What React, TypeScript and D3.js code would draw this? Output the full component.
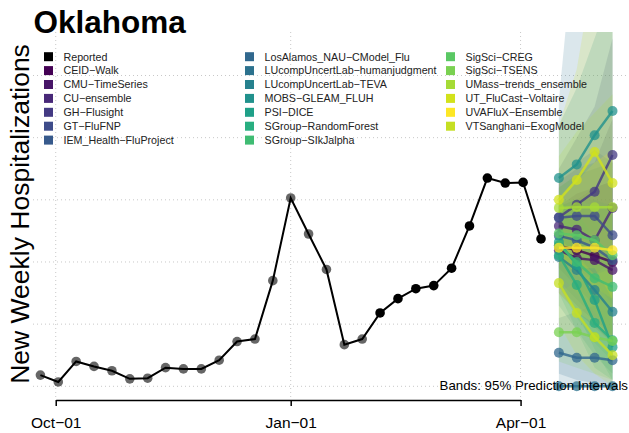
import { useRef, useEffect } from 'react';
import * as d3 from 'd3';

const FONT = "'Liberation Sans', Arial, Helvetica, sans-serif";

// weekly reported hospitalizations
const reportedDates = [
  '2022-09-25', '2022-10-02', '2022-10-09', '2022-10-16', '2022-10-23', '2022-10-30',
  '2022-11-06', '2022-11-13', '2022-11-20', '2022-11-27', '2022-12-04', '2022-12-11',
  '2022-12-18', '2022-12-25', '2023-01-01', '2023-01-08', '2023-01-15', '2023-01-22',
  '2023-01-29', '2023-02-05', '2023-02-12', '2023-02-19', '2023-02-26', '2023-03-05',
  '2023-03-12', '2023-03-19', '2023-03-26', '2023-04-02', '2023-04-09',
];
const reportedValues = [
  18, 7, 40, 32, 25, 12, 13, 30, 28, 28, 42, 72, 76, 170, 303, 245, 188, 67, 76,
  118, 141, 157, 162, 190, 258, 335, 327, 328, 237,
];
// points up to this date are drawn grey
const greyUntil = '2023-01-29';

const forecastDates = ['2023-04-16', '2023-04-23', '2023-04-30', '2023-05-07'];

const modelNames = [
  'CEID-Walk', 'CMU-TimeSeries', 'CU-ensemble', 'GH-Flusight', 'GT-FluFNP',
  'IEM_Health-FluProject', 'LosAlamos_NAU-CModel_Flu', 'LUcompUncertLab-humanjudgment',
  'LUcompUncertLab-TEVA', 'MOBS-GLEAM_FLUH', 'PSI-DICE', 'SGroup-RandomForest',
  'SGroup-SIkJalpha', 'SigSci-CREG', 'SigSci-TSENS', 'UMass-trends_ensemble',
  'UT_FluCast-Voltaire', 'UVAFluX-Ensemble', 'VTSanghani-ExogModel',
];
const modelColors = [
  '#440154', '#481668', '#482878', '#443A83', '#3E4C8A', '#375A8C', '#31688E',
  '#2C728E', '#26818E', '#21918C', '#1FA088', '#28AE80', '#3FBC73', '#5AC864',
  '#7AD151', '#A5DB36', '#D2E21B', '#FDE725', '#C5DF23',
];
const modelMedian = [
  [226, 219, 210, 200], [219, 206, 203, 187], [258, 252, 235, 287], [272, 292, 313, 372],
  [271, 274, 274, 243], [242, 235, 223, 203], [54, 46, 46, 42], [0, 0, 0, 0],
  [208, 187, 155, 120], [335, 357, 404, 443], [232, 195, 139, 63], [211, 163, 102, 74],
  [227, 200, 174, 160], [246, 243, 235, 211], [87, 87, 79, 73], [287, 288, 288, 288],
  [300, 332, 377, 327], [223, 223, 223, 219], [166, 118, 79, 50],
];
const modelLower = [
  [160, 130, 105, 80], [150, 120, 95, 70], [190, 160, 130, 140], [200, 190, 180, 200],
  [210, 190, 170, 130], [170, 140, 110, 80], [20, 10, 5, 0], [0, 0, 0, 0],
  [130, 90, 50, 20], [250, 240, 250, 250], [170, 120, 60, 10], [150, 90, 30, 10],
  [160, 110, 70, 40], [180, 150, 120, 80], [40, 30, 20, 10], [210, 180, 160, 140],
  [200, 190, 190, 140], [150, 120, 100, 80], [100, 50, 20, 0],
];
const modelUpper = [
  [290, 310, 320, 330], [290, 300, 320, 330], [330, 350, 360, 430], [350, 400, 450, 560],
  [330, 360, 380, 360], [320, 340, 350, 360], [110, 120, 130, 140], [460, 760, 900, 1000],
  [290, 300, 300, 290], [420, 480, 560, 640], [300, 280, 240, 180], [280, 250, 200, 180],
  [300, 300, 290, 290], [320, 340, 360, 370], [150, 170, 180, 190], [370, 410, 440, 470],
  [420, 510, 680, 750], [300, 330, 360, 380], [240, 210, 180, 160],
];

const axisDates = ['2022-10-01', '2023-01-01', '2023-04-01'];

const W = 629;
const H = 433;

export default function App() {
  const svgRef = useRef<SVGSVGElement>(null);

  useEffect(() => {
    const svg = d3.select(svgRef.current);
    svg.selectAll('*').remove();
    const parse = d3.utcParse('%Y-%m-%d');
    const dt = (s: string) => parse(s) as Date;

    const x = d3.scaleUtc()
      .domain([dt('2022-09-25'), dt('2023-01-01')])
      .range([40.4, 290.7]);
    const y = d3.scaleLinear().domain([0, 500]).range([386.3, 75.5]);

    const plot = { left: 33, top: 32, right: W, bottom: 400 };

    svg.append('defs')
      .append('clipPath')
      .attr('id', 'plotclip')
      .append('rect')
      .attr('x', plot.left)
      .attr('y', plot.top)
      .attr('width', plot.right - plot.left)
      .attr('height', plot.bottom - plot.top);

    // grid
    const grid = svg.append('g');
    grid.selectAll('.hgrid')
      .data(y.ticks(5))
      .join('line')
      .attr('x1', plot.left)
      .attr('x2', plot.right)
      .attr('y1', (d) => y(d))
      .attr('y2', (d) => y(d))
      .attr('stroke', '#c8c8c8')
      .attr('stroke-dasharray', '1,3');
    grid.selectAll('.vgrid')
      .data(axisDates.map(dt))
      .join('line')
      .attr('x1', (d) => x(d))
      .attr('x2', (d) => x(d))
      .attr('y1', plot.top)
      .attr('y2', plot.bottom)
      .attr('stroke', '#c8c8c8')
      .attr('stroke-dasharray', '1,3');

    const fDates = forecastDates.map(dt);
    const models = modelNames.map((name, i) => ({
      name,
      color: modelColors[i],
      pts: fDates.map((date, h) => ({
        date,
        med: modelMedian[i][h],
        lo: modelLower[i][h],
        hi: modelUpper[i][h],
      })),
    }));

    // prediction bands
    const area = d3.area<{ date: Date; lo: number; hi: number }>()
      .x((d) => x(d.date))
      .y0((d) => y(d.lo))
      .y1((d) => y(d.hi));
    svg.append('g')
      .attr('clip-path', 'url(#plotclip)')
      .selectAll('path')
      .data(models)
      .join('path')
      .attr('d', (m) => area(m.pts))
      .attr('fill', (m) => m.color)
      .attr('fill-opacity', 0.17);

    // reported
    const reported = reportedDates.map((s, i) => ({ date: dt(s), value: reportedValues[i] }));
    const line = d3.line<{ date: Date; value: number }>()
      .x((d) => x(d.date))
      .y((d) => y(d.value));
    svg.append('path')
      .attr('d', line(reported))
      .attr('fill', 'none')
      .attr('stroke', '#000')
      .attr('stroke-width', 2);
    const cutoff = dt(greyUntil);
    svg.append('g')
      .selectAll('circle')
      .data(reported)
      .join('circle')
      .attr('cx', (d) => x(d.date))
      .attr('cy', (d) => y(d.value))
      .attr('r', 4.8)
      .attr('fill', '#000')
      .attr('fill-opacity', (d) => (d.date <= cutoff ? 0.6 : 1));

    // model medians
    const mline = d3.line<{ date: Date; med: number }>()
      .x((d) => x(d.date))
      .y((d) => y(d.med));
    const mg = svg.append('g').attr('clip-path', 'url(#plotclip)');
    models.forEach((m) => {
      mg.append('path')
        .attr('d', mline(m.pts))
        .attr('fill', 'none')
        .attr('stroke', m.color)
        .attr('stroke-width', 2.5)
        .attr('stroke-opacity', 0.8);
      mg.selectAll(null)
        .data(m.pts)
        .join('circle')
        .attr('cx', (d) => x(d.date))
        .attr('cy', (d) => y(d.med))
        .attr('r', 5)
        .attr('fill', m.color)
        .attr('fill-opacity', 0.75);
    });

    // legend
    const entries = [{ name: 'Reported', color: '#000' }, ...models];
    const lg = svg.append('g');
    entries.forEach((e, i) => {
      const col = Math.floor(i / 7);
      const row = i % 7;
      const cy = 56.7 + row * 13.9;
      lg.append('rect')
        .attr('x', 44 + col * 201)
        .attr('y', cy - 4.5)
        .attr('width', 9)
        .attr('height', 9)
        .attr('fill', e.color);
      lg.append('text')
        .attr('x', 63.5 + col * 201)
        .attr('y', cy)
        .attr('dy', '0.36em')
        .attr('font-family', FONT)
        .attr('font-size', 10.7)
        .attr('fill', '#222')
        .text(e.name.replace(/-/g, '\u2212'));
    });

    // x axis
    const oct1 = dt(axisDates[0]);
    const apr1 = dt(axisDates[2]);
    const xa = x.copy().domain([oct1, apr1]).range([x(oct1), x(apr1)]);
    const fmt = d3.utcFormat('%b-%d');
    svg.append('g')
      .attr('transform', `translate(0,${plot.bottom})`)
      .call(
        d3.axisBottom(xa)
          .tickValues(axisDates.map(dt))
          .tickSize(6)
          .tickSizeOuter(0)
          .tickPadding(11)
          .tickFormat((d) => fmt(d as Date).replace('-', '\u2212')),
      )
      .call((sel) => sel.select('.domain').attr('stroke', '#000').attr('stroke-width', 1.5))
      .call((sel) => sel.selectAll('.tick line').attr('stroke', '#000').attr('stroke-width', 1.5))
      .call((sel) =>
        sel.selectAll('.tick text')
          .attr('fill', '#000')
          .attr('font-size', 15.5)
          .attr('font-family', FONT),
      );

    svg.append('text')
      .attr('x', 628)
      .attr('y', 390)
      .attr('text-anchor', 'end')
      .attr('font-family', FONT)
      .attr('font-size', 13.3)
      .attr('fill', '#000')
      .text('Bands: 95% Prediction Intervals');

    svg.append('text')
      .attr('transform', 'translate(29,214) rotate(-90)')
      .attr('text-anchor', 'middle')
      .attr('font-family', FONT)
      .attr('font-size', 26.5)
      .attr('fill', '#000')
      .text('New Weekly Hospitalizations');

    svg.append('text')
      .attr('x', 33.5)
      .attr('y', 33)
      .attr('font-family', FONT)
      .attr('font-size', 31.5)
      .attr('font-weight', 'bold')
      .attr('fill', '#000')
      .text('Oklahoma');
  }, []);

  return (
    <svg
      ref={svgRef}
      width={W}
      height={H}
      viewBox={`0 0 ${W} ${H}`}
      style={{ position: 'absolute', left: 0, top: 0, background: '#fff' }}
    />
  );
}
